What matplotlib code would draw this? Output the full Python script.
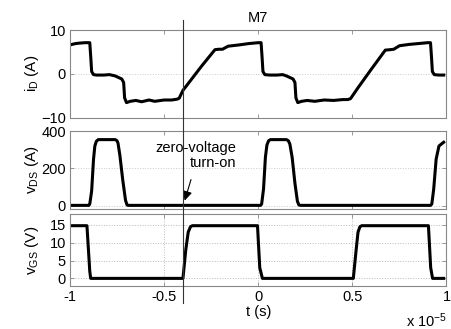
import matplotlib
matplotlib.use("Agg")
import matplotlib.pyplot as plt
import matplotlib.transforms as mtransforms

plt.rcParams["font.family"] = ["Liberation Sans", "DejaVu Sans"]
plt.rcParams["mathtext.fontset"] = "custom"
plt.rcParams["mathtext.rm"] = "Liberation Sans"
plt.rcParams["mathtext.it"] = "Liberation Sans"

# time axis in units of 1e-5 s
T_ID = [-1.0, -0.97, -0.95, -0.92, -0.895, -0.89, -0.885, -0.875, -0.86, -0.82,
        -0.79, -0.76, -0.74, -0.725, -0.715, -0.71, -0.70, -0.68, -0.65, -0.62,
        -0.58, -0.55, -0.50, -0.46, -0.43, -0.42, -0.40, -0.30, -0.23, -0.21,
        -0.19, -0.16, -0.10, -0.05, 0.0, 0.015, 0.02, 0.025, 0.035, 0.06,
        0.10, 0.13, 0.15, 0.17, 0.185, 0.195, 0.20, 0.21, 0.23, 0.26,
        0.30, 0.35, 0.40, 0.45, 0.475, 0.49, 0.53, 0.60, 0.675, 0.70,
        0.72, 0.75, 0.80, 0.85, 0.90, 0.915, 0.92, 0.925, 0.935, 0.96, 0.985]
I_D = [6.6, 6.9, 7.0, 7.1, 7.1, 4.0, 0.5, -0.2, -0.3, -0.3,
       -0.2, -0.5, -0.9, -1.2, -2.0, -5.5, -6.6, -6.3, -6.1, -6.4,
       -6.0, -6.3, -6.0, -6.0, -5.8, -5.6, -3.8, 1.8, 5.5, 5.6,
       5.6, 6.3, 6.6, 6.9, 7.1, 7.1, 4.0, 0.5, -0.2, -0.3,
       -0.3, -0.2, -0.5, -0.9, -1.2, -2.0, -5.5, -6.6, -6.3, -6.1,
       -6.3, -6.0, -6.1, -5.9, -5.9, -5.7, -3.2, 1.0, 5.4, 5.5,
       5.6, 6.4, 6.7, 6.9, 7.1, 7.1, 4.0, 0.5, -0.2, -0.3, -0.3]

T_DS = [-1.0, -0.90, -0.895, -0.885, -0.875, -0.868, -0.86, -0.85, -0.76, -0.75,
        -0.745, -0.735, -0.72, -0.705, -0.697, -0.69, 0.012, 0.018, 0.028, 0.038,
        0.046, 0.055, 0.065, 0.15, 0.16, 0.168, 0.18, 0.195, 0.208, 0.216,
        0.225, 0.915, 0.922, 0.932, 0.945, 0.96, 0.985]
V_DS = [3, 3, 10, 80, 250, 320, 345, 354, 354, 348,
        335, 270, 140, 30, 5, 3, 3, 10, 90, 260,
        325, 348, 354, 354, 348, 330, 260, 120, 25, 5,
        3, 3, 10, 90, 250, 320, 340]

T_GS = [-1.0, -0.91, -0.895, -0.89, -0.40, -0.385, -0.372, -0.36, -0.35, -0.004,
        0.008, 0.022, 0.505, 0.52, 0.53, 0.54, 0.55, 0.904, 0.916, 0.926, 0.985]
V_GS = [14.8, 14.8, 2.0, 0.0, 0.0, 8.0, 13.0, 14.5, 14.8, 14.8,
        3.0, 0.0, 0.0, 8.0, 13.0, 14.5, 14.8, 14.8, 3.0, 0.0, 0.0]

T_ON = -0.4
X_TICKS = [-1, -0.5, 0, 0.5, 1]

W, H = 452, 329
fig = plt.figure(figsize=(W / 100, H / 100), dpi=100)

left, right = 70 / W, 446.5 / W
def box(top, bottom):
    return [left, 1 - bottom / H, right - left, (bottom - top) / H]

ax1 = fig.add_axes(box(30, 117.5))
ax2 = fig.add_axes(box(131, 209.3))
ax3 = fig.add_axes(box(214.3, 285.5))

spine_c = "#888888"
for ax in (ax1, ax2, ax3):
    ax.set_xlim(-1, 0.985)
    ax.set_xticks(X_TICKS)
    for s in ax.spines.values():
        s.set_color(spine_c)
        s.set_linewidth(0.8)
    ax.tick_params(direction="in", length=3, width=0.6, color=spine_c,
                   top=True, right=True, labelsize=10.5, pad=3)
    ax.yaxis.set_label_coords(-0.077, 0.5)

ax1.plot(T_ID, I_D, color="k", lw=2.2)
ax1.set_ylim(-10, 10)
ax1.set_yticks([-10, 0, 10])
ax1.tick_params(labelbottom=False)
ax1.grid(axis="y", color="#cccccc", ls=":", lw=0.7)
ax1.set_ylabel("i$_D$ (A)", fontsize=11)
ax1.set_title("M7", fontsize=10.5)

ax2.plot(T_DS, V_DS, color="k", lw=2.2)
ax2.set_ylim(-18, 400)
ax2.set_yticks([0, 200, 400])
ax2.tick_params(labelbottom=False)
ax2.grid(axis="y", color="#cccccc", ls=":", lw=0.7)
ax2.set_ylabel("v$_{DS}$ (A)", fontsize=11)
ax2.text(-0.116, 270, "zero-voltage\nturn-on", ha="right", va="center",
         multialignment="right", fontsize=10.5, linespacing=1.1)
ax2.annotate("", xy=(-0.395, 14), xytext=(-0.353, 155),
             arrowprops=dict(arrowstyle="-|>", color="k", lw=0.8,
                             mutation_scale=14))

ax3.plot(T_GS, V_GS, color="k", lw=2.2)
ax3.set_ylim(-2, 18)
ax3.set_yticks([0, 5, 10, 15])
ax3.set_xticklabels(["-1", "-0.5", "0", "0.5", "1"])
ax3.grid(color="#bbbbbb", ls=":", lw=0.7)
ax3.set_ylabel("v$_{GS}$ (V)", fontsize=11)
ax3.set_xlabel("t (s)", fontsize=10.5, labelpad=1)

fig.text(427 / W, 1 - 321 / H, "x 10$^{-5}$", ha="center", va="center",
         fontsize=10.5)

# turn-on marker spanning all three panels
trans = mtransforms.blended_transform_factory(ax3.transData, fig.transFigure)
fig.add_artist(plt.Line2D([T_ON, T_ON], [1 - 20 / H, 1 - 303 / H],
                          transform=trans, color="#333333", lw=0.8))

fig.savefig("out.png", dpi=100)
